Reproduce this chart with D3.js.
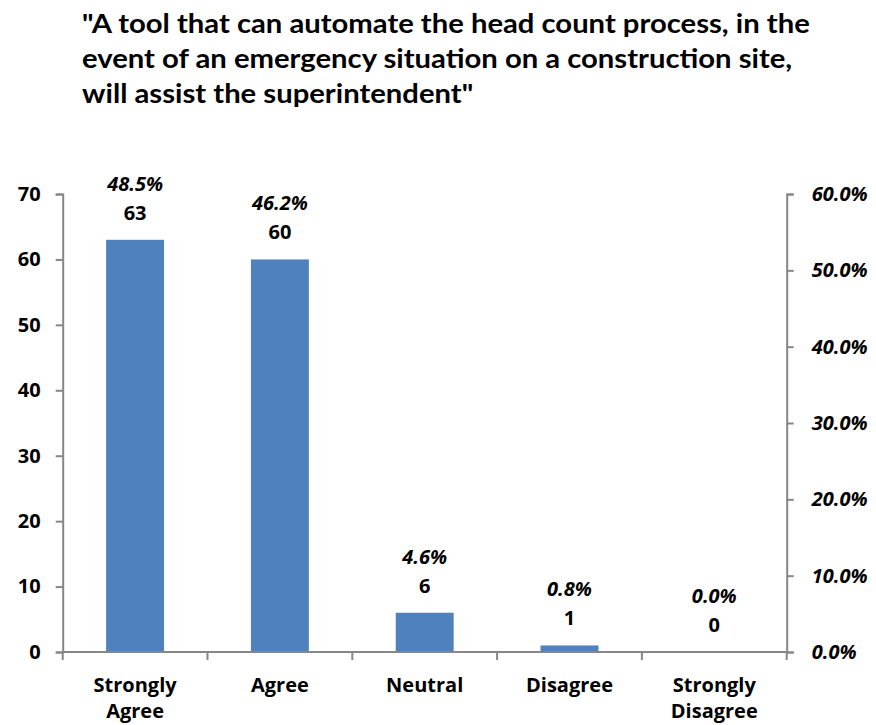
<!DOCTYPE html>
<html><head><meta charset="utf-8">
<script src="https://cdn.jsdelivr.net/npm/d3@7"></script>
<style>body{margin:0;background:#fff;} text{font-family:"Open Sans",Lato,sans-serif;}</style>
</head><body>
<svg id="c" width="876" height="725"></svg>
<script>
const categories = [["Strongly","Agree"],["Agree"],["Neutral"],["Disagree"],["Strongly","Disagree"]];
const counts = [63, 60, 6, 1, 0];
const percents = [0.485, 0.462, 0.046, 0.008, 0.0];
const leftTicks = [0,10,20,30,40,50,60,70];
const rightTicks = [0,0.1,0.2,0.3,0.4,0.5,0.6];
const titleLines = ['"A tool that can automate the head count process, in the','event of an emergency situation on a construction site,','will assist the superintendent"'];

const svg = d3.select("#c");
const L=62.7, R=786.7, T=194, B=652;
const FONT = "'Open Sans',Lato,sans-serif";
const LS = 20;
const x = d3.scaleBand().domain(d3.range(categories.length)).range([L,R]).paddingInner(0.6).paddingOuter(0.3);
const y = d3.scaleLinear().domain([0,70]).range([B,T]);
const y2 = d3.scaleLinear().domain([0,0.6]).range([B,T]);
const axisColor="#868686";

// title (condensed to mimic the original face)
const tg = svg.append("g");
titleLines.forEach((t,i)=>{
  tg.append("text").attr("x",0).attr("y",33+i*35).attr("font-size",26).attr("font-weight","bold")
    .style("font-family","Lato,'Open Sans',sans-serif").attr("fill","#000").text(t);
});
const w0 = tg.select("text").node().getComputedTextLength();
tg.attr("transform",`translate(82,0) scale(${728/w0},1)`);

// bars
svg.selectAll("rect.bar").data(counts).join("rect").attr("class","bar")
  .attr("x",(d,i)=>x(i)).attr("width",x.bandwidth())
  .attr("y",d=>y(d)).attr("height",d=>B-y(d)).attr("fill","#4F81BD");

// left axis
const ga = svg.append("g").attr("transform",`translate(${L},0)`)
  .call(d3.axisLeft(y).tickValues(leftTicks).tickSize(7).tickPadding(15));
// right axis
const gb = svg.append("g").attr("transform",`translate(${R},0)`)
  .call(d3.axisRight(y2).tickValues(rightTicks).tickSize(7).tickPadding(18).tickFormat(d3.format(".1%")));
// bottom axis
const gc = svg.append("g");
gc.append("line").attr("x1",L).attr("x2",R).attr("y1",B).attr("y2",B).attr("stroke",axisColor).attr("stroke-width",2);
gc.selectAll("line.t").data(d3.range(categories.length+1)).join("line").attr("class","t")
  .attr("x1",i=>L+i*(R-L)/categories.length).attr("x2",i=>L+i*(R-L)/categories.length)
  .attr("y1",B).attr("y2",B+8).attr("stroke",axisColor).attr("stroke-width",2);

[ga,gb].forEach(g=>{
  g.select(".domain").attr("stroke",axisColor).attr("stroke-width",2);
  g.selectAll(".tick line").attr("stroke",axisColor).attr("stroke-width",2);
  g.selectAll(".tick text").attr("font-size",LS).attr("font-weight","bold").attr("fill","#000").style("font-family",FONT);
});
gb.selectAll(".tick text").attr("font-style","italic");

// category labels
categories.forEach((lines,i)=>{
  const t = svg.append("text").attr("text-anchor","middle").attr("font-size",LS).attr("font-weight","bold")
    .attr("x",x(i)+x.bandwidth()/2).attr("y",692);
  lines.forEach((ln,j)=>t.append("tspan").attr("x",x(i)+x.bandwidth()/2).attr("dy",j?26:0).text(ln));
});

// data labels
svg.selectAll("text.cnt").data(counts).join("text").attr("class","cnt")
  .attr("x",(d,i)=>x(i)+x.bandwidth()/2).attr("y",d=>y(d)-20)
  .attr("text-anchor","middle").attr("font-size",LS).attr("font-weight","bold").text(d=>d);
svg.selectAll("text.pct").data(percents).join("text").attr("class","pct")
  .attr("x",(d,i)=>x(i)+x.bandwidth()/2).attr("y",(d,i)=>y(counts[i])-49)
  .attr("text-anchor","middle").attr("font-size",LS).attr("font-weight","bold").attr("font-style","italic")
  .text(d=>d3.format(".1%")(d));
</script>
</body></html>
